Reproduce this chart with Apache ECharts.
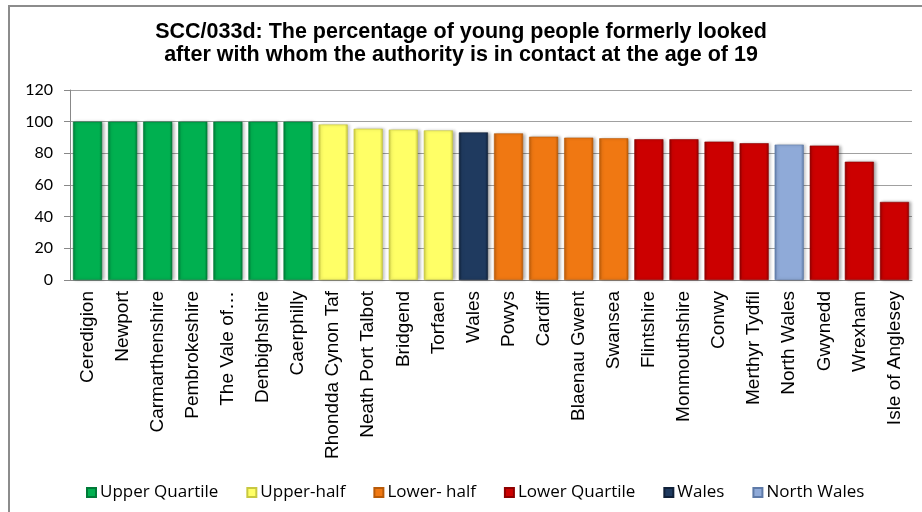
<!DOCTYPE html>
<html>
<head>
<meta charset="utf-8">
<script src="https://cdn.jsdelivr.net/npm/echarts@6/dist/echarts.min.js"></script>
<style>html,body{margin:0;padding:0;background:#fff;}#c{width:922px;height:512px;}</style>
</head>
<body>
<div id="c"></div>
<script>
const categories = ["Ceredigion","Newport","Carmarthenshire","Pembrokeshire","The Vale of…","Denbighshire","Caerphilly","Rhondda Cynon Taf","Neath Port Talbot","Bridgend","Torfaen","Wales","Powys","Cardiff","Blaenau Gwent","Swansea","Flintshire","Monmouthshire","Conwy","Merthyr Tydfil","North Wales","Gwynedd","Wrexham","Isle of Anglesey"];
const values = [100,100,100,100,100,100,100,98.2,95.5,95.0,94.5,93.2,92.6,90.5,89.9,89.5,88.9,88.9,87.4,86.4,85.5,84.9,74.7,49.3];
const groupOf = [0,0,0,0,0,0,0,1,1,1,1,4,2,2,2,2,3,3,3,3,5,3,3,3];
const groupNames = ["Upper Quartile","Upper-half","Lower- half","Lower Quartile","Wales","North Wales"];
const groupColors = ["#00B050","#FFFF66","#F07812","#CC0000","#1F3A5F","#8FAAD8"];
const groupEdges = ["#007A38","#C8C840","#B85A08","#8E0000","#102038","#5E7AA8"];
const yTicks = {min:0,max:120,interval:20};

const series = groupNames.map((name,g)=>({
  name: name,
  type: 'bar',
  stack: 'all',
  barWidth: '83%',
  data: values.map((v,i)=> groupOf[i]===g ? v : null),
  itemStyle: {
    color: new echarts.graphic.LinearGradient(0,0,1,0,[
      {offset:0,color:groupEdges[g]},
      {offset:0.1,color:groupColors[g]},
      {offset:0.9,color:groupColors[g]},
      {offset:1,color:groupEdges[g]}
    ]),
    borderColor: groupEdges[g],
    borderWidth: 0.6,
    shadowColor: 'rgba(0,0,0,0.3)',
    shadowBlur: 3,
    shadowOffsetX: 2
  }
}));

const chart = echarts.init(document.getElementById('c'));
chart.setOption({
  animation:false,
  backgroundColor:'#fff',
  graphic:[{type:'rect',shape:{x:9,y:6,width:930,height:530},style:{fill:'none',stroke:'#8c8c8c',lineWidth:2},z:-1}],
  title:{
    text:'SCC/033d: The percentage of young people formerly looked\nafter with whom the authority is in contact at the age of 19',
    left:'center', top:16,
    textStyle:{fontFamily:'Liberation Sans',fontWeight:'bold',fontSize:21.5,lineHeight:23,color:'#000'}
  },
  legend:{
    data: groupNames, left:81, top:479, itemWidth:9, itemHeight:9, itemGap:28, icon:'rect',
    textStyle:{fontFamily:'Open Sans',fontSize:17,color:'#000',padding:[0,0,0,-1]}
  },
  grid:{left:70,right:10,top:90,bottom:232},
  xAxis:{
    type:'category', data:categories,
    axisLine:{lineStyle:{color:'#888'}},
    axisTick:{lineStyle:{color:'#888'},length:5},
    axisLabel:{rotate:90,interval:0,fontFamily:'Liberation Sans',fontSize:19,color:'#000',margin:11}
  },
  yAxis:{
    type:'value', min:yTicks.min, max:yTicks.max, interval:yTicks.interval,
    axisLine:{show:true,lineStyle:{color:'#888'}},
    axisTick:{show:true,length:6,lineStyle:{color:'#888'}},
    splitLine:{lineStyle:{color:'#a0a0a0'}},
    axisLabel:{fontFamily:'Lato',fontSize:16,color:'#000',margin:17}
  },
  series: series
});
</script>
</body>
</html>
